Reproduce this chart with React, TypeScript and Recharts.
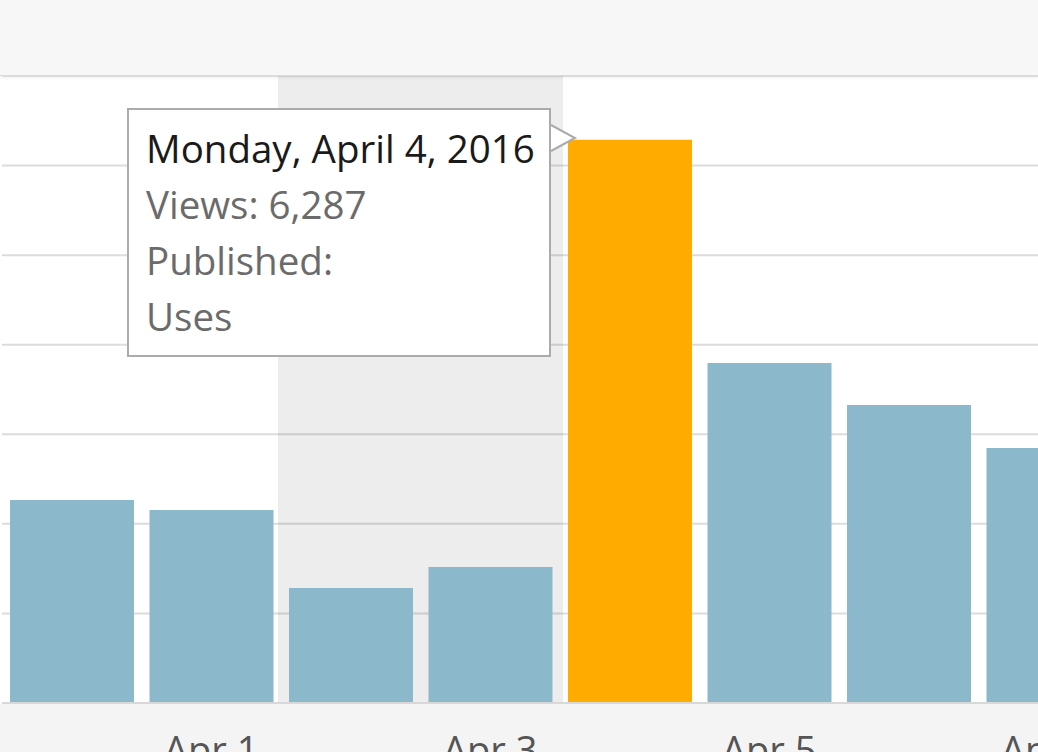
import React from 'react';
import { BarChart, Bar, Cell, XAxis, YAxis, CartesianGrid, Tooltip, ReferenceArea } from 'recharts';

const days = ['Mar 31', 'Apr 1', 'Apr 2', 'Apr 3', 'Apr 4', 'Apr 5', 'Apr 6', 'Apr 7'];
const fullDates = [
  'Thursday, March 31, 2016',
  'Friday, April 1, 2016',
  'Saturday, April 2, 2016',
  'Sunday, April 3, 2016',
  'Monday, April 4, 2016',
  'Tuesday, April 5, 2016',
  'Wednesday, April 6, 2016',
  'Thursday, April 7, 2016',
];
const views = [2267, 2155, 1284, 1519, 6287, 3797, 3328, 2848];
const published = [[], [], [], [], ['Uses'], [], [], []];
const tickLabels = ['', 'Apr 1', '', 'Apr 3', '', 'Apr 5', '', 'Apr 7'];
const yTicks = [0, 1000, 2000, 3000, 4000, 5000, 6000, 7000];
const weekend = ['Apr 2', 'Apr 3'];
const selectedIndex = 4;

const FONT = '"Open Sans", "Noto Sans", sans-serif';

const data = days.map((day, i) => ({ day, views: views[i] }));

function StatsTooltip({ label }: any) {
  const i = days.indexOf(label);
  if (i < 0) return null;
  const posts = published[i];
  return (
    <div
      style={{
        position: 'relative',
        boxSizing: 'border-box',
        width: 424,
        height: 249,
        background: '#fff',
        border: '2px solid #ababab',
        padding: '10px 0 0 17px',
        fontFamily: FONT,
        fontSize: 38.5,
        lineHeight: '56px',
        whiteSpace: 'nowrap',
      }}
    >
      <div style={{ color: '#1a1a1a' }}>{fullDates[i]}</div>
      <div style={{ color: '#6b6b6b' }}>Views: {views[i].toLocaleString('en-US')}</div>
      <div style={{ color: '#6b6b6b' }}>Published:</div>
      {posts.map((p) => (
        <div key={p} style={{ color: '#6b6b6b' }}>{p}</div>
      ))}
      <svg style={{ position: 'absolute', left: 420, top: 13, overflow: 'visible' }} width={30} height={30}>
        <polyline points="2,2 26,15 2,28" fill="#fff" stroke="#ababab" strokeWidth={2} />
      </svg>
    </div>
  );
}

// weekend band is drawn a little wider than the two category slots
const WeekendBand = (p: any) => (
  <rect x={p.x - 3} y={p.y} width={p.width + 6} height={p.height} fill="#000" fillOpacity={0.07} />
);

export default function App() {
  return (
    <div style={{ position: 'fixed', left: 0, top: 0, width: 1038, height: 752, overflow: 'hidden', background: '#fff' }}>
      <div style={{ position: 'absolute', left: 0, top: 0, width: 1038, height: 75, background: '#f7f7f7', borderBottom: '1px solid #dadada', boxShadow: '0 2px 3px rgba(0,0,0,0.06)' }} />
      <div style={{ position: 'absolute', left: 0, top: 704, width: 1038, height: 48, background: '#f4f4f4' }} />
      <div style={{ position: 'absolute', left: 2, top: 0 }}>
        <BarChart width={1116} height={800} data={data} margin={{ top: 76, right: 0, bottom: 37, left: 0 }} barCategoryGap={8}>
          <CartesianGrid vertical={false} stroke="#dcdcdc" strokeWidth={2} />
          <ReferenceArea x1={weekend[0]} x2={weekend[1]} shape={WeekendBand} />
          <XAxis
            dataKey="day"
            height={60}
            interval={0}
            tickLine={false}
            tickSize={0}
            tickMargin={34}
            axisLine={{ stroke: '#d8d8d8', strokeWidth: 2 }}
            tickFormatter={(_v: string, i: number) => tickLabels[i]}
            tick={{ fill: '#555', fontSize: 38, fontFamily: FONT }}
          />
          <YAxis hide domain={[0, 7000]} ticks={yTicks} />
          <Tooltip
            content={<StatsTooltip />}
            defaultIndex={selectedIndex}
            active
            cursor={false}
            position={{ x: 125, y: 108 }}
            isAnimationActive={false}
            wrapperStyle={{ outline: 'none' }}
          />
          <Bar dataKey="views" isAnimationActive={false}>
            {data.map((d, i) => (
              <Cell key={d.day} fill={i === selectedIndex ? '#ffab00' : '#8cb8cb'} />
            ))}
          </Bar>
        </BarChart>
      </div>
    </div>
  );
}
